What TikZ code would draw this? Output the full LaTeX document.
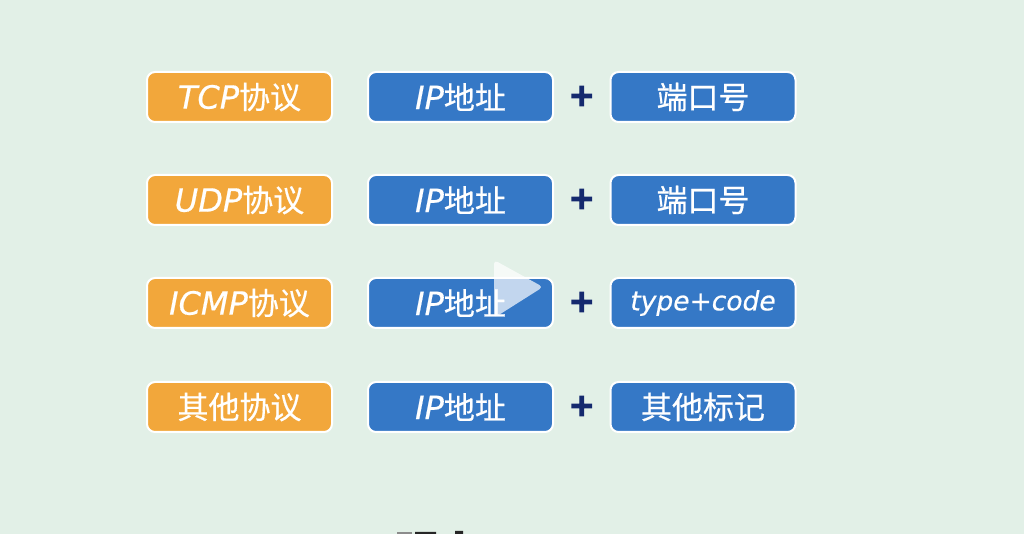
\documentclass[tikz,border=0pt]{standalone}
\usepackage{fontspec}
\usepackage{xcolor}
\usetikzlibrary{positioning,calc}
\setmainfont[ItalicFeatures={FakeBold=0.5}]{DejaVu Sans}
\newfontfamily\cjk[FakeBold=0.5]{Noto Sans CJK SC}
\newfontfamily\plusfont[FakeBold=4]{DejaVu Sans Bold}
\definecolor{bgcolor}{HTML}{E2F0E7}
\definecolor{protocolcolor}{HTML}{F2A73B}
\definecolor{fieldcolor}{HTML}{3578C6}
\definecolor{pluscolor}{HTML}{14296E}
\newcommand{\lat}[1]{{\fontsize{32}{32}\selectfont\itshape #1}}
\newcommand{\latsmall}[1]{{\fontsize{26.5}{32}\selectfont\itshape #1}}
\newcommand{\han}[1]{{\cjk\fontsize{31}{31}\selectfont #1}}
\tikzset{
    protocol/.style={rectangle, rounded corners=8pt, minimum width=185pt, minimum height=50pt, inner sep=0pt, text centered, draw=white, line width=2pt, fill=protocolcolor, text=white},
    field/.style={rectangle, rounded corners=8pt, minimum width=185pt, minimum height=50pt, inner sep=0pt, text centered, draw=white, line width=2pt, fill=fieldcolor, text=white},
    plussign/.style={inner sep=0pt, yshift=1pt, text=pluscolor, font=\plusfont\fontsize{31}{31}\selectfont},
}
\begin{document}
\begin{tikzpicture}[x=1pt, y=1pt]
    \useasboundingbox[fill=bgcolor] (0,0) rectangle (1024,534);
    % first row
    \node[protocol] (tcp) at (239.5,437) {\lat{TCP}\han{协议}};
    \node[field, right=34pt of tcp] (ip1) {\lat{IP}\han{地址}};
    \node[field, right=55.5pt of ip1] (port1) {\han{端口号}};
    \node[plussign] (plus1) at ($(ip1)!0.5!(port1)$) {+};
    % second row
    \node[protocol, below=51pt of tcp] (udp) {\lat{UDP}\han{协议}};
    \node[field, right=34pt of udp] (ip2) {\lat{IP}\han{地址}};
    \node[field, right=55.5pt of ip2] (port2) {\han{端口号}};
    \node[plussign] (plus2) at ($(ip2)!0.5!(port2)$) {+};
    % third row
    \node[protocol, below=51pt of udp] (icmp) {\lat{ICMP}\han{协议}};
    \node[field, right=34pt of icmp] (ip3) {\lat{IP}\han{地址}};
    \node[field, right=55.5pt of ip3] (code3) {\latsmall{type+code}};
    \node[plussign] (plus3) at ($(ip3)!0.5!(code3)$) {+};
    % fourth row
    \node[protocol, below=52pt of icmp] (other) {\han{其他协议}};
    \node[field, right=34pt of other] (ip4) {\lat{IP}\han{地址}};
    \node[field, right=55.5pt of ip4] (mark4) {\han{其他标记}};
    \node[plussign] (plus4) at ($(ip4)!0.5!(mark4)$) {+};
    % play button
    \fill[white, opacity=0.7, rounded corners=4pt] (494,274) -- (543,247) -- (494,216) -- cycle;
    % cut off text at the bottom edge
    \fill[black!45] (397,0) rectangle (412,1.5);
    \fill[black!85] (415,0) rectangle (436,2) (455,0) rectangle (463,3);
\end{tikzpicture}
\end{document}
